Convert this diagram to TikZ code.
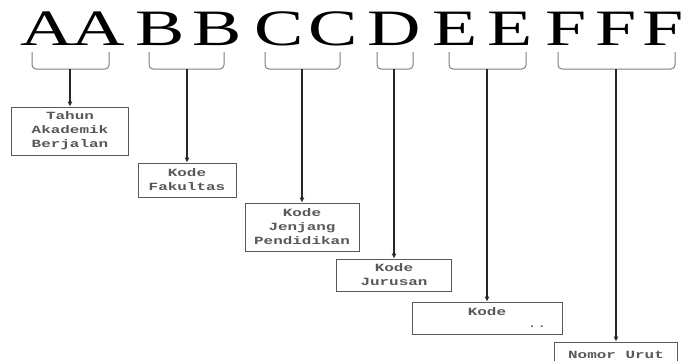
\documentclass[tikz,border=0pt]{standalone}
\usepackage{fontspec}
\setmainfont{Liberation Serif}
\newfontfamily\letterfont[FakeStretch=1.45]{Liberation Serif}
\newfontfamily\labelfont[FakeStretch=1.45]{Liberation Mono}
\usetikzlibrary{arrows.meta}

\begin{document}
\begin{tikzpicture}[x=1pt, y=-1pt,
    bigletter/.style={font=\letterfont\fontsize{51}{51}\selectfont, inner sep=0pt, anchor=base},
    brace/.style={draw=black!50, line width=1pt, rounded corners=4pt},
    codebox/.style={draw=black!65, line width=0.8pt, fill=white, align=center, text=black!65,
        font=\labelfont\bfseries\fontsize{11}{14}\selectfont, inner sep=0pt},
    link/.style={draw=black!85, line width=1.3pt, -{Latex[length=5pt,width=5pt]}},
    ]
    \clip (0, 0) rectangle (686, 360);
    % code letters
    \foreach \ch/\cx [count=\i] in {A/47.5, A/98.5, B/160.5, B/217.5, C/279, C/333.5,
        D/394.5, E/455, E/510, F/566, F/616, F/663}
        \node[bigletter] (l\i) at (\cx, 45) {\ch};
    % braces under each group
    \foreach \name/\xl/\xm/\xr in {t1/32/70/109, t2/149/187/224, t3/265/302/340,
        t4/377/394/413, t5/449/487/526, t6/558/616/675} {
        \coordinate (\name) at (\xm, 69);
        \draw[brace] (\xl, 52) |- (\name) -| (\xr, 52);
    }
    % meaning of each group
    \node[codebox, minimum width=117pt, minimum height=48pt] (tahun) at (70, 131) {Tahun\\Akademik\\Berjalan};
    \node[codebox, minimum width=98pt, minimum height=34pt] (fakultas) at (187, 180) {Kode\\Fakultas};
    \node[codebox, minimum width=114pt, minimum height=48pt] (jenjang) at (302, 227) {Kode\\Jenjang\\Pendidikan};
    \node[codebox, minimum width=115pt, minimum height=32pt] (jurusan) at (394, 275) {Kode\\Jurusan};
    \node[codebox, minimum width=150pt, minimum height=32pt] (kode) at (487, 318) {Kode\\[-2pt]\hspace*{100pt}{\mdseries ..}};
    \node[codebox, minimum width=123pt, minimum height=26pt] (urut) at (616, 355) {Nomor Urut};
    \draw[link] (t1) -- (tahun.north);
    \draw[link] (t2) -- (fakultas.north);
    \draw[link] (t3) -- (jenjang.north);
    \draw[link] (t4) -- (jurusan.north);
    \draw[link] (t5) -- (kode.north);
    \draw[link] (t6) -- (urut.north);
\end{tikzpicture}
\end{document}
